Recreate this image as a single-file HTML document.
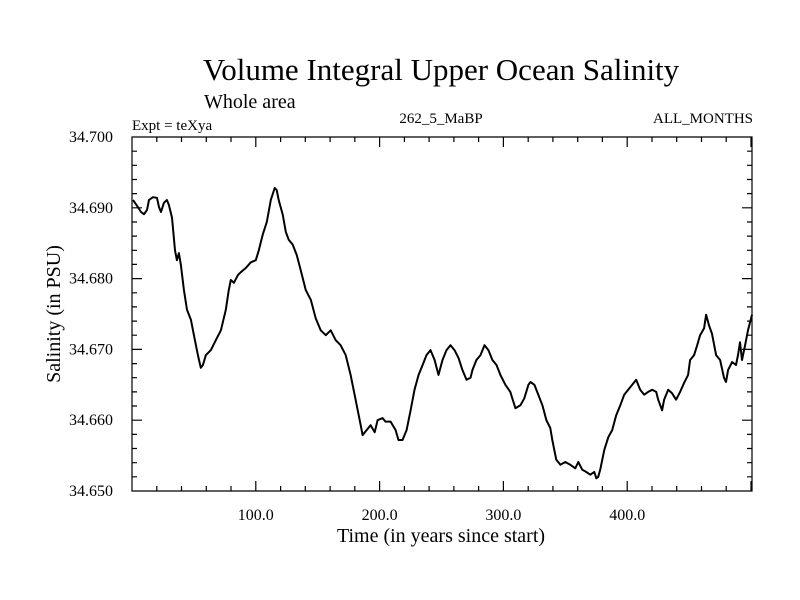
<!DOCTYPE html>
<html><head><meta charset="utf-8"><style>
html,body{margin:0;padding:0;background:#fff;}
svg{display:block;font-family:"Liberation Serif",serif;}
</style></head><body>
<svg id="chart" width="800" height="600">
<text x="441" y="80" font-size="31" text-anchor="middle">Volume Integral Upper Ocean Salinity</text>
<text x="204" y="108" font-size="20">Whole area</text>
<text x="132" y="130" font-size="15">Expt = teXya</text>
<text x="441" y="123" font-size="15" text-anchor="middle">262_5_MaBP</text>
<text x="753" y="123" font-size="15" text-anchor="end">ALL_MONTHS</text>
<text x="441" y="542" font-size="20" text-anchor="middle">Time (in years since start)</text>
<text transform="translate(60,314) rotate(-90)" font-size="20" text-anchor="middle">Salinity (in PSU)</text>
<g id="axes"></g>
<path id="line" fill="none" stroke="#000" stroke-width="2" stroke-linejoin="round"></path>
</svg>
<script>
const years=[0.8,4.8,7.3,9.7,12.1,13.7,16.9,20.2,21.8,23.4,25.8,28.2,29.8,32.3,34.7,36.3,37.9,39.5,41.9,44.4,47.6,50.8,53.2,55.6,57.3,59.7,63.7,67.7,71.8,75.8,78.2,79.8,82.3,85.5,87.9,91.9,96.0,100.0,102.4,105.6,108.9,112.1,115.3,116.9,118.5,121.8,124.2,126.6,129.8,133.1,136.3,140.3,144.4,148.4,152.4,156.5,160.5,164.5,168.5,172.6,176.6,180.6,184.7,186.3,189.5,192.7,196.0,198.4,202.4,204.8,208.9,212.9,215.3,218.5,221.8,225.0,228.2,231.5,234.7,237.9,241.1,244.4,247.6,250.8,254.0,257.3,260.5,263.7,266.9,270.2,273.4,275.0,278.2,281.5,284.7,287.9,291.1,294.4,297.6,301.6,305.6,309.7,313.7,316.9,320.2,321.8,325.0,328.2,331.5,334.7,337.9,339.5,342.7,346.0,350.0,354.0,358.1,360.5,363.7,366.9,370.2,373.4,375.0,376.6,378.2,381.5,384.7,387.9,391.1,394.4,397.6,400.8,404.0,407.3,410.5,413.7,416.9,420.2,423.4,425.0,428.2,429.8,433.1,436.3,439.5,442.7,446.0,449.2,450.8,454.0,456.5,458.9,462.1,463.7,466.1,468.5,471.8,475.0,478.2,479.8,481.5,484.7,487.9,489.5,491.1,492.7,495.2,497.6,500.8];
const salinity=[34.6911,34.6901,34.6894,34.6891,34.6897,34.6911,34.6915,34.6914,34.6901,34.6894,34.6907,34.6911,34.6904,34.6886,34.6840,34.6826,34.6836,34.6819,34.6784,34.6756,34.6742,34.6713,34.6692,34.6674,34.6678,34.6692,34.6699,34.6713,34.6727,34.6756,34.6784,34.6798,34.6794,34.6805,34.6809,34.6815,34.6823,34.6826,34.6840,34.6862,34.6880,34.6911,34.6928,34.6925,34.6911,34.6890,34.6866,34.6855,34.6848,34.6833,34.6812,34.6784,34.6770,34.6744,34.6727,34.6720,34.6727,34.6713,34.6706,34.6692,34.6664,34.6629,34.6593,34.6579,34.6586,34.6593,34.6583,34.6600,34.6603,34.6598,34.6598,34.6586,34.6572,34.6572,34.6586,34.6614,34.6643,34.6664,34.6678,34.6692,34.6699,34.6685,34.6664,34.6685,34.6699,34.6706,34.6699,34.6688,34.6671,34.6657,34.6660,34.6671,34.6685,34.6692,34.6706,34.6699,34.6685,34.6678,34.6664,34.6650,34.6640,34.6617,34.6621,34.6631,34.6650,34.6654,34.6650,34.6636,34.6621,34.6600,34.6589,34.6572,34.6544,34.6537,34.6541,34.6537,34.6532,34.6541,34.6530,34.6527,34.6523,34.6527,34.6518,34.6520,34.6530,34.6558,34.6576,34.6586,34.6607,34.6621,34.6636,34.6643,34.6650,34.6657,34.6643,34.6636,34.6640,34.6643,34.6640,34.6629,34.6614,34.6629,34.6643,34.6638,34.6629,34.6640,34.6653,34.6664,34.6685,34.6692,34.6706,34.6720,34.6730,34.6749,34.6734,34.6722,34.6692,34.6685,34.6660,34.6654,34.6671,34.6682,34.6678,34.6692,34.6710,34.6685,34.6706,34.6727,34.6749];
const xTicks=[100,200,300,400];
const xTickLabels=["100.0","200.0","300.0","400.0"];
const yTicks=[34.65,34.66,34.67,34.68,34.69,34.70];
const yTickLabels=["34.650","34.660","34.670","34.680","34.690","34.700"];

const L=132,R=752,T=137,B=491;
const X0=0,X1=500.8;
function xs(v){return L+(v-X0)/(X1-X0)*(R-L);}
function ys(v){return B-(v-34.65)/0.05*(B-T);}
const ns="http://www.w3.org/2000/svg";
const ax=document.getElementById('axes');
let d="";
d+=`M${L},${T}H${R}V${B}H${L}Z`;
for(let v=20;v<X1;v+=20){
  const x=xs(v).toFixed(1);const len=(v%100===0)?10:5;
  d+=`M${x},${B}v${-len}M${x},${T}v${len}`;
}
for(let i=0;i<=25;i++){
  const v=34.65+i*0.002;const y=ys(v).toFixed(1);const len=(i%5===0)?10:5;
  d+=`M${L},${y}h${len}M${R},${y}h${-len}`;
}
const fr=document.createElementNS(ns,'path');
fr.setAttribute('d',d);fr.setAttribute('stroke','#000');fr.setAttribute('stroke-width','1.2');fr.setAttribute('fill','none');


ax.appendChild(fr);
xTicks.forEach((v,i)=>{
  const t=document.createElementNS(ns,'text');
  t.setAttribute('x',xs(v));t.setAttribute('y',520);t.setAttribute('font-size','16');t.setAttribute('text-anchor','middle');
  t.textContent=xTickLabels[i];
  
  
  ax.appendChild(t);
});
yTicks.forEach((v,i)=>{
  const t=document.createElementNS(ns,'text');
  t.setAttribute('x',113);t.setAttribute('y',ys(v)+5);t.setAttribute('font-size','16');t.setAttribute('text-anchor','end');
  t.textContent=yTickLabels[i];
  
  
  ax.appendChild(t);
});
let p="";
years.forEach((v,i)=>{p+=(i?"L":"M")+xs(v).toFixed(1)+","+ys(salinity[i]).toFixed(1);});
document.getElementById('line').setAttribute('d',p);
</script>
</body></html>
